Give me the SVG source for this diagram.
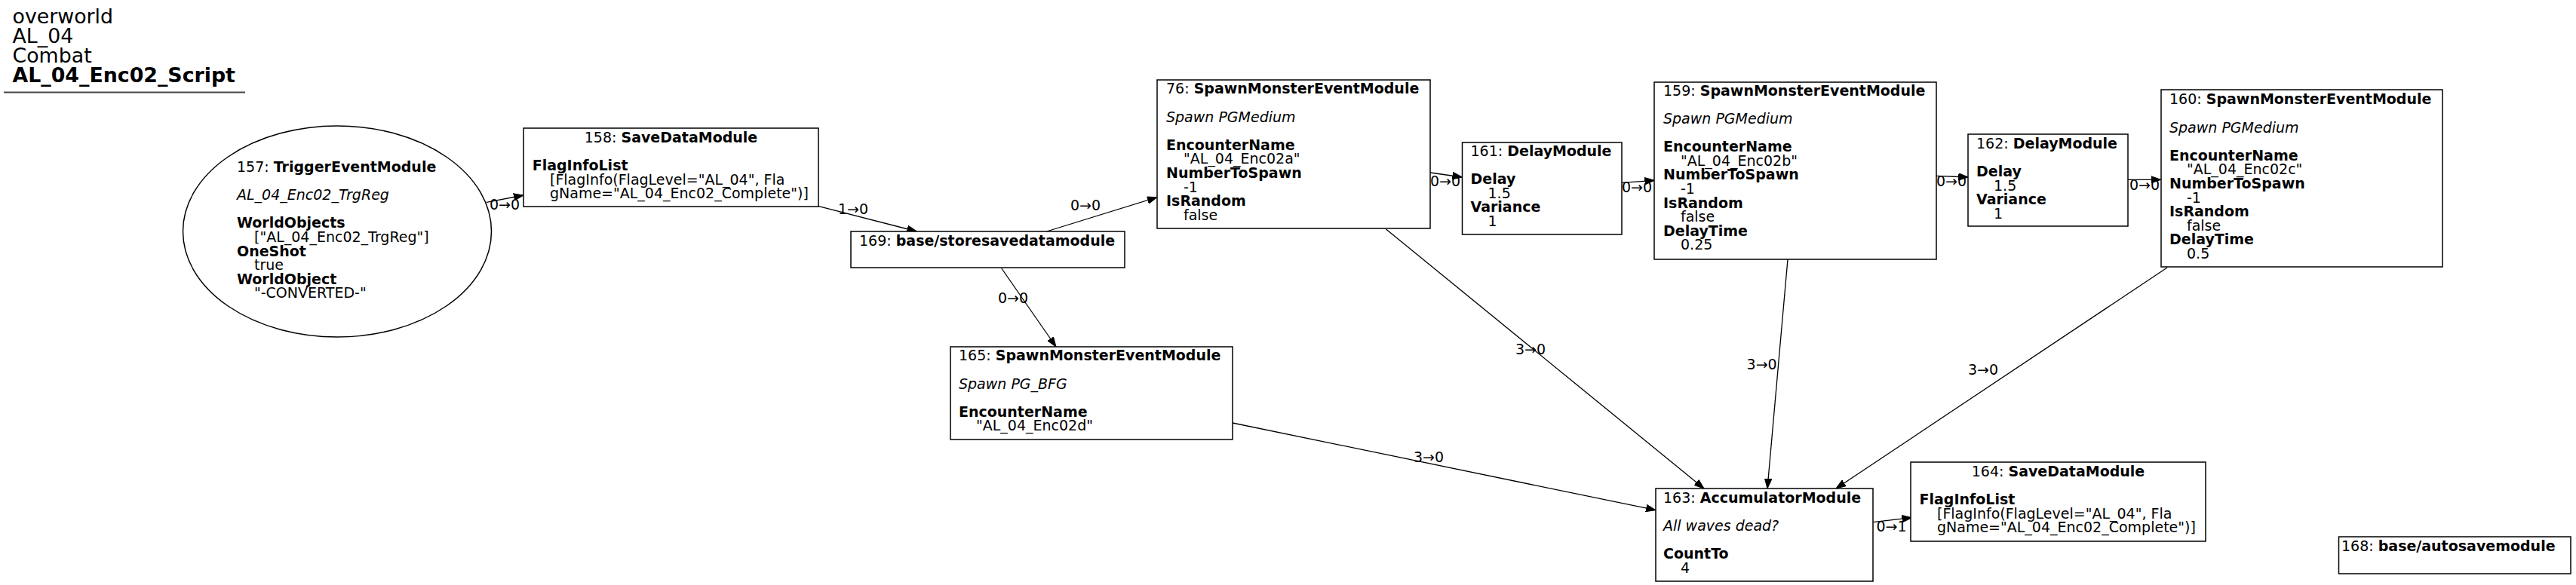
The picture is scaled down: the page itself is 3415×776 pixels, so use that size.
<svg xmlns="http://www.w3.org/2000/svg" width="3415" height="776" viewBox="0 0 3415 776">
<style>
text{font-family:"DejaVu Sans","Liberation Sans",sans-serif;font-size:19px;fill:#000}
.b{font-weight:bold}
.i{font-style:italic}
.ttl{font-size:26.8px}
.node{fill:#fff;stroke:#000;stroke-width:1.5}
.edge{fill:none;stroke:#000;stroke-width:1.3}
.c{text-anchor:middle}
</style>
<defs>
<marker id="ah" viewBox="0 -5 13 10" markerWidth="13" markerHeight="10" refX="13" refY="0" orient="auto" markerUnits="userSpaceOnUse">
<path d="M0,-4.7 L13,0 L0,4.7 Z" fill="#000" stroke="#000" stroke-width="1"/>
</marker>
</defs>
<rect x="0" y="0" width="3415" height="776" fill="#fff"/>
<g id="title">
<text class="ttl" x="16.5" y="30.5">overworld</text>
<text class="ttl" x="16.5" y="56.5">AL_04</text>
<text class="ttl" x="16.5" y="82.5">Combat</text>
<text class="ttl b" x="16.5" y="108.5">AL_04_Enc02_Script</text>
<line x1="5" y1="122.5" x2="325" y2="122.5" stroke="#444" stroke-width="2"/>
</g>
<g id="connectors">
<path class="edge" marker-end="url(#ah)" d="M645,268.3 L694,259"/>
<path class="edge" marker-end="url(#ah)" d="M1084.5,273.3 L1215.4,307"/>
<path class="edge" marker-end="url(#ah)" d="M1387.6,307 L1534,261.7"/>
<path class="edge" marker-end="url(#ah)" d="M1327.8,356 L1400,460"/>
<path class="edge" marker-end="url(#ah)" d="M1896,229 L1938.5,235"/>
<path class="edge" marker-end="url(#ah)" d="M2150,242.3 L2193.4,239.3"/>
<path class="edge" marker-end="url(#ah)" d="M2566.7,233.3 L2609.4,235"/>
<path class="edge" marker-end="url(#ah)" d="M2821,238.3 L2864.6,238.3"/>
<path class="edge" marker-end="url(#ah)" d="M1837.5,304 L2259,648"/>
<path class="edge" marker-end="url(#ah)" d="M2370,344 L2343,648"/>
<path class="edge" marker-end="url(#ah)" d="M2873,355 L2434,648"/>
<path class="edge" marker-end="url(#ah)" d="M1634,561 L2195,676.7"/>
<path class="edge" marker-end="url(#ah)" d="M2483,692.7 L2534.5,686.7"/>
<text x="649" y="278">0→0</text>
<text x="1111" y="284">1→0</text>
<text x="1419" y="279">0→0</text>
<text x="1323" y="401.7">0→0</text>
<text x="1896" y="246.7">0→0</text>
<text x="2150" y="255">0→0</text>
<text x="2567" y="246.7">0→0</text>
<text x="2823" y="251.7">0→0</text>
<text x="2009" y="470">3→0</text>
<text x="2315.6" y="490">3→0</text>
<text x="2609" y="496.7">3→0</text>
<text x="1874" y="613">3→0</text>
<text x="2487.5" y="705">0→1</text>
</g>
<g id="n157">
<ellipse class="node" cx="447" cy="307" rx="204.5" ry="140"/>
<text x="314" y="228">157: <tspan class="b">TriggerEventModule</tspan></text>
<text class="i" x="314" y="265.2">AL_04_Enc02_TrgReg</text>
<text class="b" x="314" y="302.4">WorldObjects</text>
<text x="337" y="321">["AL_04_Enc02_TrgReg"]</text>
<text class="b" x="314" y="339.6">OneShot</text>
<text x="337" y="358.2">true</text>
<text class="b" x="314" y="376.8">WorldObject</text>
<text x="337" y="395.4">"-CONVERTED-"</text>
</g>
<g id="n158">
<rect class="node" x="694" y="170" width="391" height="104"/>
<text class="c" x="889.5" y="189">158: <tspan class="b">SaveDataModule</tspan></text>
<text class="b" x="705.7" y="226.2">FlagInfoList</text>
<text x="729" y="244.8">[FlagInfo(FlagLevel="AL_04", Fla</text>
<text x="729" y="263.4">gName="AL_04_Enc02_Complete")]</text>
</g>
<g id="n169">
<rect class="node" x="1128" y="307" width="363" height="48"/>
<text x="1139" y="325.7">169: <tspan class="b">base/storesavedatamodule</tspan></text>
</g>
<g id="n76">
<rect class="node" x="1534" y="106" width="362" height="197"/>
<text x="1546" y="124.3">76: <tspan class="b">SpawnMonsterEventModule</tspan></text>
<text class="i" x="1546" y="161.5">Spawn PGMedium</text>
<text class="b" x="1546" y="198.7">EncounterName</text>
<text x="1569" y="217.3">"AL_04_Enc02a"</text>
<text class="b" x="1546" y="235.9">NumberToSpawn</text>
<text x="1569" y="254.5">-1</text>
<text class="b" x="1546" y="273.1">IsRandom</text>
<text x="1569" y="291.7">false</text>
</g>
<g id="n161">
<rect class="node" x="1938.5" y="189" width="211.5" height="122"/>
<text x="1949.5" y="206.7">161: <tspan class="b">DelayModule</tspan></text>
<text class="b" x="1949.5" y="243.9">Delay</text>
<text x="1972.5" y="262.5">1.5</text>
<text class="b" x="1949.5" y="281.1">Variance</text>
<text x="1972.5" y="299.7">1</text>
</g>
<g id="n159">
<rect class="node" x="2193" y="109" width="374" height="235"/>
<text x="2205" y="126.7">159: <tspan class="b">SpawnMonsterEventModule</tspan></text>
<text class="i" x="2205" y="163.9">Spawn PGMedium</text>
<text class="b" x="2205" y="201.1">EncounterName</text>
<text x="2228" y="219.7">"AL_04_Enc02b"</text>
<text class="b" x="2205" y="238.3">NumberToSpawn</text>
<text x="2228" y="256.9">-1</text>
<text class="b" x="2205" y="275.5">IsRandom</text>
<text x="2228" y="294.1">false</text>
<text class="b" x="2205" y="312.7">DelayTime</text>
<text x="2228" y="331.3">0.25</text>
</g>
<g id="n162">
<rect class="node" x="2609" y="178" width="212" height="122"/>
<text x="2620" y="196.7">162: <tspan class="b">DelayModule</tspan></text>
<text class="b" x="2620" y="233.9">Delay</text>
<text x="2643" y="252.5">1.5</text>
<text class="b" x="2620" y="271.1">Variance</text>
<text x="2643" y="289.7">1</text>
</g>
<g id="n160">
<rect class="node" x="2865" y="119" width="373" height="235"/>
<text x="2876" y="138.3">160: <tspan class="b">SpawnMonsterEventModule</tspan></text>
<text class="i" x="2876" y="175.5">Spawn PGMedium</text>
<text class="b" x="2876" y="212.7">EncounterName</text>
<text x="2899" y="231.3">"AL_04_Enc02c"</text>
<text class="b" x="2876" y="249.9">NumberToSpawn</text>
<text x="2899" y="268.5">-1</text>
<text class="b" x="2876" y="287.1">IsRandom</text>
<text x="2899" y="305.7">false</text>
<text class="b" x="2876" y="324.3">DelayTime</text>
<text x="2899" y="342.9">0.5</text>
</g>
<g id="n165">
<rect class="node" x="1260" y="460" width="374" height="123"/>
<text x="1271" y="478.3">165: <tspan class="b">SpawnMonsterEventModule</tspan></text>
<text class="i" x="1271" y="515.5">Spawn PG_BFG</text>
<text class="b" x="1271" y="552.7">EncounterName</text>
<text x="1294" y="571.3">"AL_04_Enc02d"</text>
</g>
<g id="n163">
<rect class="node" x="2195" y="648" width="288" height="123"/>
<text x="2205" y="666.7">163: <tspan class="b">AccumulatorModule</tspan></text>
<text class="i" x="2205" y="703.9">All waves dead?</text>
<text class="b" x="2205" y="741.1">CountTo</text>
<text x="2228" y="759.7">4</text>
</g>
<g id="n164">
<rect class="node" x="2533" y="613" width="391" height="105"/>
<text class="c" x="2728.5" y="631.7">164: <tspan class="b">SaveDataModule</tspan></text>
<text class="b" x="2544.5" y="668.9">FlagInfoList</text>
<text x="2568" y="687.5">[FlagInfo(FlagLevel="AL_04", Fla</text>
<text x="2568" y="706.1">gName="AL_04_Enc02_Complete")]</text>
</g>
<g id="n168">
<rect class="node" x="3100.5" y="712" width="307.5" height="49"/>
<text x="3104" y="730.5">168: <tspan class="b">base/autosavemodule</tspan></text>
</g>
</svg>
